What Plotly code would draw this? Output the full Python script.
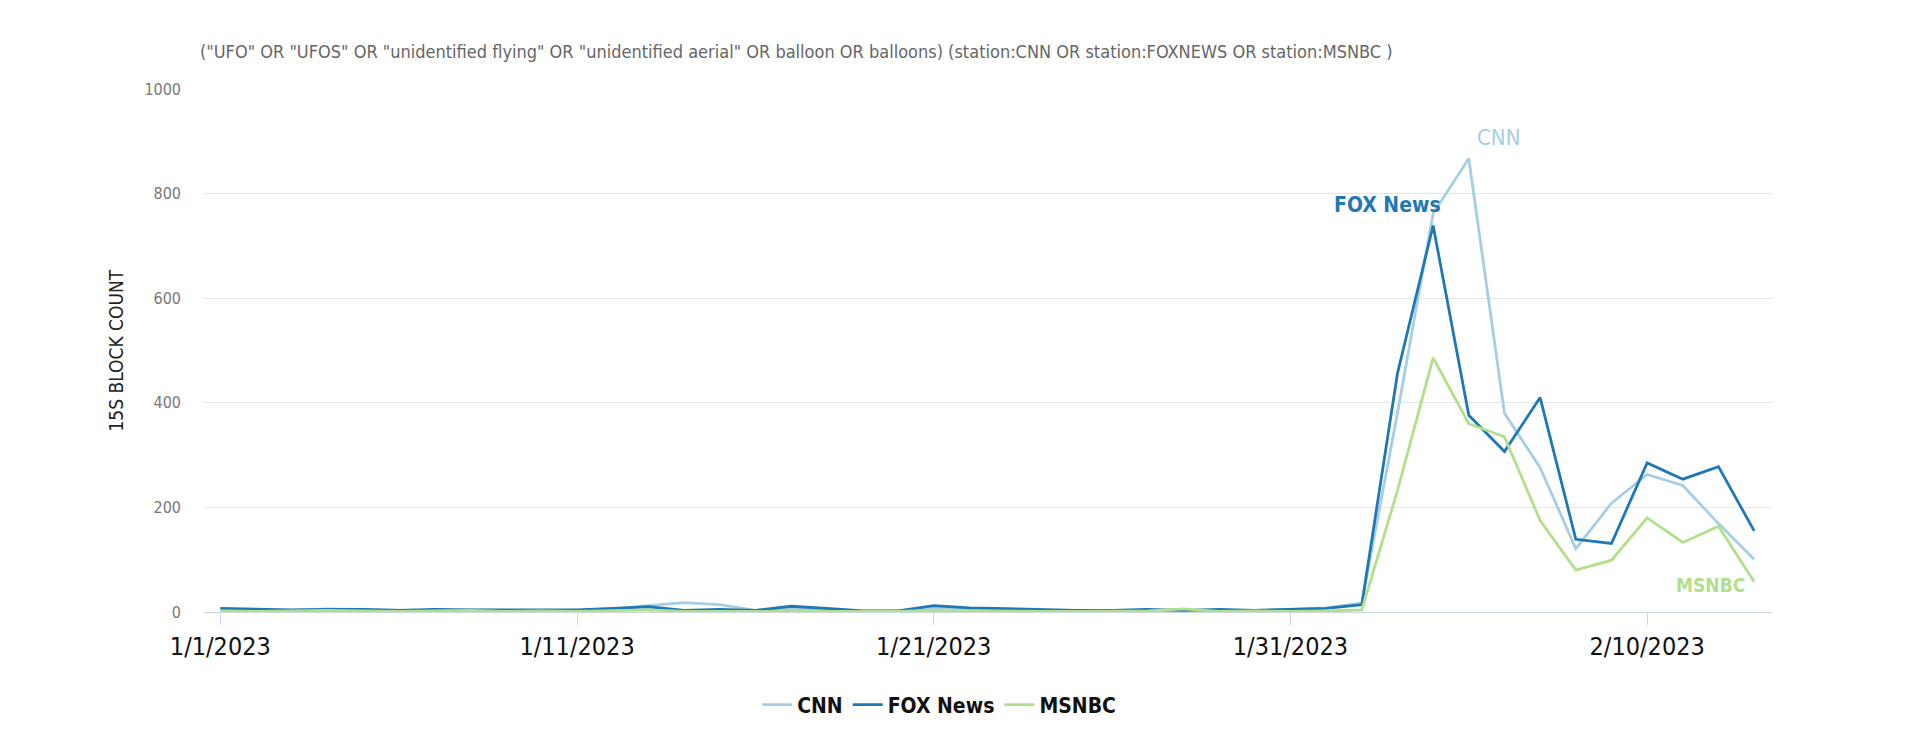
import pandas as pd
import plotly.graph_objects as go

dates = pd.date_range("2023-01-01", "2023-02-13", freq="D")

cnn = [4, 3, 3, 6, 5, 4, 2, 4, 3, 2, 3, 5, 12, 18, 14, 3, 6, 6, 2, 2, 8, 6,
       4, 3, 3, 3, 4, 3, 4, 3, 5, 8, 17, 380, 762, 867, 380, 276, 121, 208,
       263, 242, 169, 101]
fox = [7, 5, 4, 5, 5, 3, 5, 4, 4, 3, 4, 7, 10, 3, 5, 3, 11, 7, 2, 2, 12, 8,
       6, 4, 3, 3, 5, 3, 5, 3, 5, 7, 14, 456, 739, 376, 307, 410, 139, 131,
       285, 254, 278, 155]
msnbc = [2, 1, 2, 3, 2, 1, 2, 3, 1, 2, 1, 3, 4, 1, 1, 2, 2, 1, 1, 1, 3, 2,
         1, 1, 1, 1, 2, 6, 1, 2, 1, 2, 4, 232, 486, 360, 335, 175, 80, 99,
         180, 133, 164, 58]

series_names = ["CNN", "FOX News", "MSNBC"]
series_values = [cnn, fox, msnbc]
colors = ["#a6cee3", "#1f78b4", "#b2df8a"]

tick_dates = ["2023-01-01", "2023-01-11", "2023-01-21", "2023-01-31", "2023-02-10"]
tick_labels = ["1/1/2023", "1/11/2023", "1/21/2023", "1/31/2023", "2/10/2023"]
y_ticks = [0, 200, 400, 600, 800, 1000]

title_text = ('("UFO" OR "UFOS" OR "unidentified flying" OR "unidentified aerial" '
              'OR balloon OR balloons) (station:CNN OR station:FOXNEWS OR station:MSNBC )')

COND = "Liberation Sans Narrow, DejaVu Sans Condensed, Roboto, sans-serif"

fig = go.Figure()
for name, vals, col in zip(series_names, series_values, colors):
    fig.add_trace(go.Scatter(x=dates, y=vals, name=name, mode="lines",
                             line=dict(color=col, width=2.8)))

# end labels
fig.add_annotation(x=dates[35], y=cnn[35], text="CNN", showarrow=False,
                   xanchor="left", yanchor="bottom", xshift=6, yshift=7,
                   font=dict(family=COND, size=22, color=colors[0]))
fig.add_annotation(x=dates[34], y=fox[34], text="<b>FOX News</b>", showarrow=False,
                   xanchor="right", yanchor="bottom", xshift=10, yshift=7,
                   font=dict(family=COND, size=21, color=colors[1]))
fig.add_annotation(x=dates[43], y=msnbc[43], text="<b>MSNBC</b>", showarrow=False,
                   xanchor="right", yanchor="middle", xshift=-7, yshift=-3,
                   font=dict(family=COND, size=19, color=colors[2]))

# y axis title
fig.add_annotation(xref="paper", yref="paper", x=0, y=0.5, xshift=-102,
                   text="15S BLOCK COUNT", textangle=-90, showarrow=False,
                   font=dict(family=COND, size=19, color="#222"))

fig.update_layout(
    width=1920, height=740,
    paper_bgcolor="white", plot_bgcolor="white",
    margin=dict(l=196, r=156, t=81, b=136),
    title=dict(text=title_text, x=192 / 1920, xanchor="left",
               y=1 - 44 / 740, yanchor="middle",
               font=dict(family=COND, size=18, color="#666")),
    showlegend=True,
    legend=dict(orientation="h", xref="container", yref="container",
                x=0.485, xanchor="center", y=1 - 697 / 740, yanchor="middle",
                font=dict(family=COND, size=21, color="#111", weight="bold"),
                itemwidth=30),
    xaxis=dict(type="date",
               range=["2022-12-31 13:00", "2023-02-13 12:00"],
               tickvals=tick_dates, ticktext=tick_labels,
               ticks="outside", ticklen=12, tickcolor="#ccd6eb", tickwidth=1,
               showline=True, linecolor="#ccd6eb", linewidth=1,
               showgrid=False, zeroline=False,
               tickfont=dict(family=COND, size=25, color="#111")),
    yaxis=dict(range=[0, 1000], tickvals=y_ticks,
               showgrid=True, gridcolor="#e6e6e6", gridwidth=1,
               zeroline=False, showline=False,
               ticklabelstandoff=22,
               tickfont=dict(family=COND, size=16, color="#777")),
)

fig.write_html("out.html")
